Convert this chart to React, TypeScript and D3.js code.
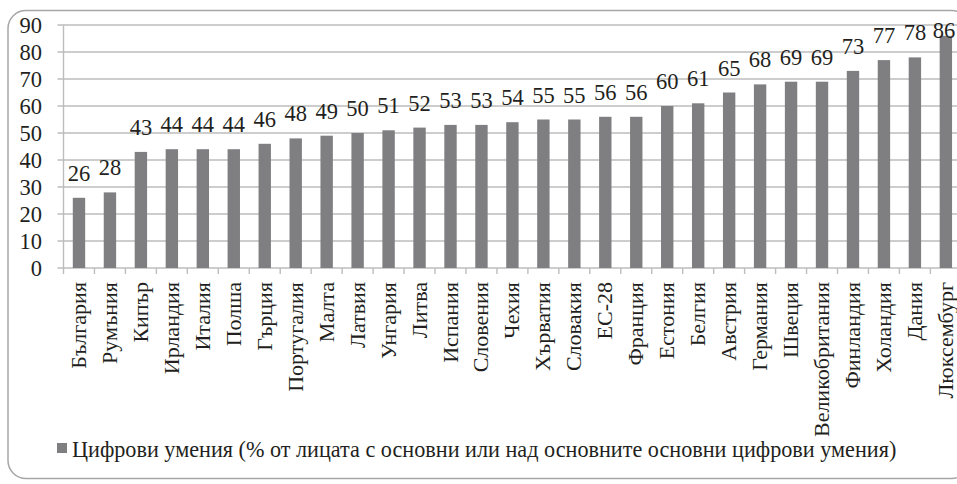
import React from "react";
import * as d3 from "d3";

const categories = [
  "България", "Румъния", "Кипър", "Ирландия", "Италия", "Полша", "Гърция",
  "Португалия", "Малта", "Латвия", "Унгария", "Литва", "Испания", "Словения",
  "Чехия", "Хърватия", "Словакия", "ЕС-28", "Франция", "Естония", "Белгия",
  "Австрия", "Германия", "Швеция", "Великобритания", "Финландия", "Холандия",
  "Дания", "Люксембург",
];
const values = [
  26, 28, 43, 44, 44, 44, 46, 48, 49, 50, 51, 52, 53, 53, 54, 55, 55, 56, 56,
  60, 61, 65, 68, 69, 69, 73, 77, 78, 86,
];
const yTicks = [0, 10, 20, 30, 40, 50, 60, 70, 80, 90];
const seriesName =
  "Цифрови умения (% от лицата с основни или над основните основни цифрови умения)";

const W = 957;
const H = 484;
const FONT = '"Liberation Serif", "Times New Roman", serif';
const TEXT = "#231f20";
const BAR = "#7f7f82";
const GRID = "#bdbdbd";

export default function App() {
  const left = 63.5;
  const step = 30.96;
  const x = d3
    .scaleBand<string>()
    .domain(categories)
    .range([left, left + step * categories.length])
    .padding(0);
  const y = d3.scaleLinear().domain([0, 90]).range([268, 25]);
  const barW = x.bandwidth() * 0.4;
  const plotRight = left + step * categories.length;
  const ts = { fontFamily: FONT };

  return (
    <svg
      width={W}
      height={H}
      style={{ position: "absolute", left: 0, top: 0, background: "#fff" }}
    >
      <rect
        x={8}
        y={10.5}
        width={962}
        height={468}
        rx={18}
        ry={18}
        fill="#fff"
        stroke="#a6a6a6"
        strokeWidth={1.5}
      />
      {yTicks.map((t) => (
        <g key={t}>
          <line
            x1={left - 6}
            x2={plotRight}
            y1={y(t)}
            y2={y(t)}
            stroke={GRID}
            strokeWidth={1.4}
          />
          <text
            x={42}
            y={y(t)}
            dy="0.34em"
            textAnchor="end"
            fontSize={22.5}
            fill={TEXT}
            style={ts}
          >
            {t}
          </text>
        </g>
      ))}
      <line x1={left} x2={left} y1={y(90)} y2={y(0)} stroke={GRID} strokeWidth={1.4} />
      {categories.map((c, i) => (
        <line
          key={"t" + i}
          x1={x(c)!}
          x2={x(c)!}
          y1={y(0)}
          y2={y(0) + 6}
          stroke={GRID}
          strokeWidth={1.4}
        />
      ))}
      {categories.map((c, i) => {
        const cx = x(c)! + x.bandwidth() / 2;
        return (
          <g key={c}>
            <rect
              x={cx - barW / 2}
              y={y(values[i])}
              width={barW}
              height={y(0) - y(values[i])}
              fill={BAR}
            />
            <text
              x={Math.min(cx, W - 13)}
              y={Math.max(y(values[i]) - 17, 38)}
              textAnchor="middle"
              fontSize={22.5}
              fill={TEXT}
              style={ts}
            >
              {values[i]}
            </text>
            <text
              transform={`translate(${cx + 7},282) rotate(-90)`}
              textAnchor="end"
              fontSize={22}
              fill={TEXT}
              style={ts}
            >
              {c}
            </text>
          </g>
        );
      })}
      <rect x={57} y={443} width={10} height={10} fill={BAR} />
      <text x={72} y={457} fontSize={22.2} fill={TEXT} style={ts}>
        {seriesName}
      </text>
    </svg>
  );
}
